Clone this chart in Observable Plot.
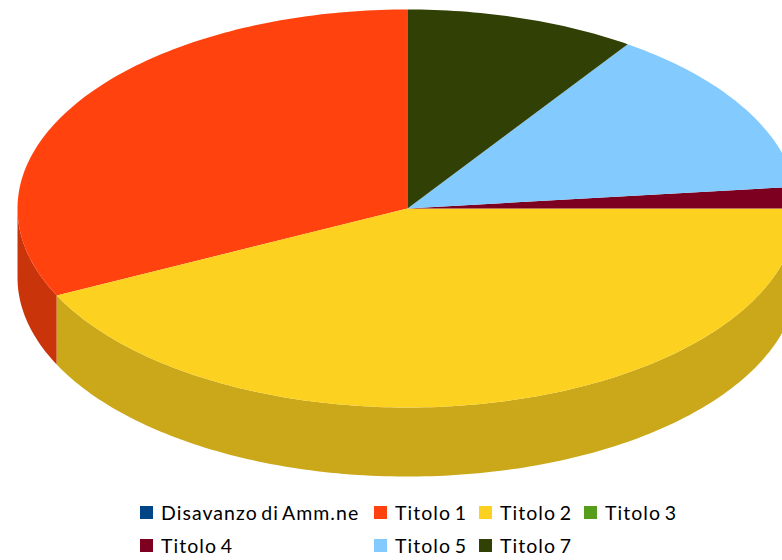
<!DOCTYPE html>
<html>
<head>
<meta charset="utf-8">
<script src="https://cdn.jsdelivr.net/npm/d3@7"></script>
<script src="https://cdn.jsdelivr.net/npm/@observablehq/plot@0.6"></script>
<style>
html,body{margin:0;padding:0;background:#fff;overflow:hidden}
#chart{width:782px;height:490px;overflow:hidden}
#legend{position:relative;width:782px;height:70px;font-family:Lato,sans-serif;font-size:19.5px;color:#000;letter-spacing:1.05px;word-spacing:-2.5px}
#legend div{position:absolute;white-space:nowrap;line-height:24px}
#legend i{position:absolute;width:13px;height:13px;top:5px;left:-21px}
</style>
</head>
<body>
<div id="chart"></div>
<div id="legend"></div>
<script>
const names = ["Disavanzo di Amm.ne","Titolo 1","Titolo 2","Titolo 3","Titolo 4","Titolo 5","Titolo 7"];
const shares = [0, 32.2, 42.8, 0, 1.75, 13.7, 9.55];
const topColors = ["#004586","#ff420e","#fcd11f","#579d1c","#7e0021","#83caff","#314004"];
const sideColors = ["#00376b","#c9340b","#cba81a","#457c16","#63001a","#67a0c9","#273303"];
const depth = 0.347;
const legendLeft = [161,395,500,605,161,395,500];
const legendTop = [11,11,11,11,44,44,44];

const total = d3.sum(shares);
let cumulative = 0;
const slices = names.map((name,i)=>{
  const start = cumulative/total*360;
  cumulative += shares[i];
  return {name,start,end:cumulative/total*360,top:topColors[i],side:sideColors[i]};
}).filter(s=>s.end>s.start);

const rad = a=>a*Math.PI/180;
const pt = (a,dy=0)=>({x:-Math.sin(rad(a)),y:Math.cos(rad(a))-dy});
const arc = (a0,a1,dy=0)=>{
  const n = Math.max(2,Math.ceil(Math.abs(a1-a0)));
  return d3.range(n+1).map(i=>pt(a0+(a1-a0)*i/n,dy));
};

const topPts = slices.flatMap(s=>[{x:0,y:0},...arc(s.start,s.end)].map(p=>({...p,name:s.name,fill:s.top})));
const sidePts = slices.flatMap(s=>{
  const a0=Math.max(s.start,90), a1=Math.min(s.end,270);
  if(a1<=a0) return [];
  return [...arc(a0,a1),...arc(a1,a0,depth)].map(p=>({...p,name:s.name,fill:s.side}));
});

const chart = Plot.plot({
  width:782,height:490,
  margin:0,
  style:{background:"#fff"},
  x:{domain:[-1,1],range:[17,797],axis:null},
  y:{domain:[-1,1],range:[407,9],axis:null},
  color:{type:"identity"},
  marks:[
    Plot.line(sidePts,{x:"x",y:"y",z:"name",fill:"fill",stroke:null,curve:"linear"}),
    Plot.line(topPts,{x:"x",y:"y",z:"name",fill:"fill",stroke:null,curve:"linear"})
  ]
});
document.getElementById("chart").appendChild(chart);

const legend = document.getElementById("legend");
names.forEach((n,i)=>{
  const d=document.createElement("div");
  d.style.left=legendLeft[i]+"px";
  d.style.top=legendTop[i]+"px";
  const sw=document.createElement("i");
  sw.style.background=topColors[i];
  d.appendChild(sw);
  d.appendChild(document.createTextNode(n));
  legend.appendChild(d);
});
</script>
</body>
</html>
